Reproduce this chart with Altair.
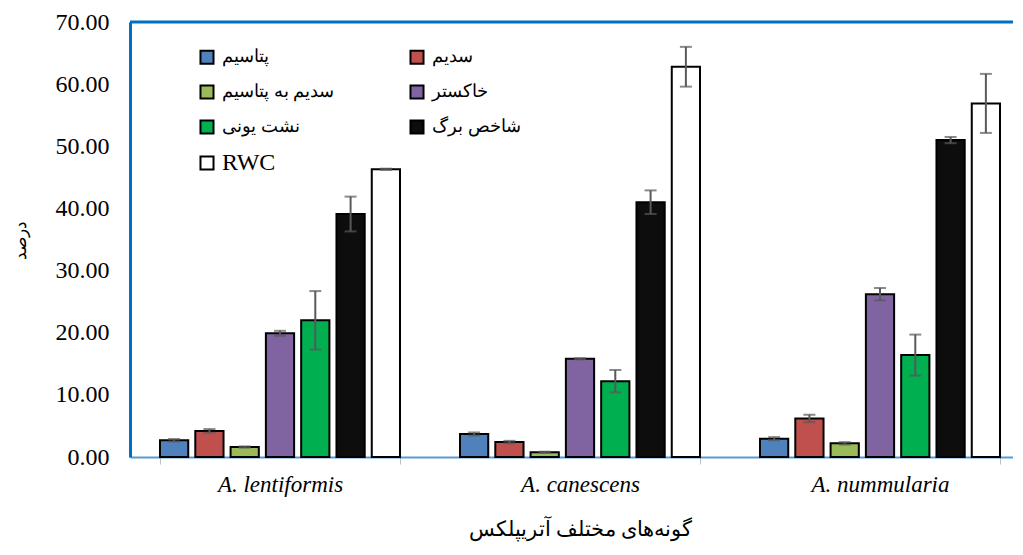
import altair as alt
import pandas as pd

species = ["A. lentiformis", "A. canescens", "A. nummularia"]
series = ["پتاسیم", "سدیم", "سدیم به پتاسیم", "خاکستر", "نشت یونی", "شاخص برگ", "RWC"]
colors = ["#4F81BD", "#C0504D", "#9BBB59", "#8064A2", "#00B050", "#0D0D0D", "#FFFFFF"]

# mean values per series, in species order
potassium = [2.7, 3.7, 2.95]
sodium = [4.2, 2.4, 6.2]
na_k = [1.6, 0.75, 2.2]
ash = [19.9, 15.8, 26.2]
leakage = [22.0, 12.2, 16.4]
leaf_index = [39.1, 41.0, 51.0]
rwc = [46.3, 62.8, 56.9]

# standard errors
potassium_err = [0.2, 0.25, 0.25]
sodium_err = [0.3, 0.2, 0.6]
na_k_err = [0.1, 0.1, 0.2]
ash_err = [0.4, 0.1, 1.0]
leakage_err = [4.7, 1.8, 3.3]
leaf_index_err = [2.8, 1.9, 0.5]
rwc_err = [0.1, 3.2, 4.75]

means = [potassium, sodium, na_k, ash, leakage, leaf_index, rwc]
errs = [potassium_err, sodium_err, na_k_err, ash_err, leakage_err, leaf_index_err, rwc_err]

rows = []
for s, m_list, e_list in zip(series, means, errs):
    for sp, m, e in zip(species, m_list, e_list):
        rows.append({"species": sp, "series": s, "value": m, "lo": m - e, "hi": m + e})
df = pd.DataFrame(rows)

SERIF = "Liberation Serif"
BORDER = "#0070C0"

x_enc = alt.X(
    "species:N",
    sort=species,
    scale=alt.Scale(range=[0, 900], paddingInner=0.2, paddingOuter=0.1),
    axis=alt.Axis(
        title="گونه‌های مختلف آتریپلکس",
        labelAngle=0,
        labelFont=SERIF,
        labelFontSize=23,
        labelFontStyle="italic",
        labelColor="#000000",
        labelPadding=9,
        tickBand="extent",
        tickSize=7,
        tickColor="#BFBFBF",
        domainColor="#5B9BD5",
        domainWidth=2,
        titleFont=SERIF,
        titleFontSize=21,
        titleFontWeight="normal",
        titleColor="#000000",
        titlePadding=22,
    ),
)
xoff = alt.XOffset("series:N", sort=series, scale=alt.Scale(paddingInner=0.2, paddingOuter=0))
y_scale = alt.Scale(domain=[0, 70], nice=False)

bars = alt.Chart(df).mark_bar(stroke="#000000", strokeWidth=2).encode(
    x=x_enc,
    xOffset=xoff,
    y=alt.Y(
        "value:Q",
        scale=y_scale,
        axis=alt.Axis(
            title="درصد",
            values=[0, 10, 20, 30, 40, 50, 60, 70],
            format=".2f",
            grid=False,
            ticks=False,
            labelFont=SERIF,
            labelFontSize=24,
            labelColor="#000000",
            labelPadding=21,
            domainColor=BORDER,
            domainWidth=3,
            titleFont=SERIF,
            titleFontSize=17,
            titleFontWeight="normal",
            titleColor="#000000",
            titlePadding=26,
        ),
    ),
    color=alt.Color(
        "series:N",
        sort=series,
        scale=alt.Scale(domain=series, range=colors),
        legend=alt.Legend(
            title=None,
            orient="none",
            legendX=68,
            legendY=26,
            columns=2,
            direction="horizontal",
            symbolType="square",
            symbolSize=170,
            symbolStrokeColor="#000000",
            symbolStrokeWidth=2,
            symbolOpacity=1,
            labelFont=SERIF,
            labelFontSize={"expr": "datum.label === 'RWC' ? 24 : 18"},
            labelColor="#000000",
            labelLimit=300,
            labelOffset=6,
            rowPadding=13,
            columnPadding=72,
            padding=0,
        ),
    ),
)

err_rule = alt.Chart(df).mark_rule(color="#595959", strokeWidth=2).encode(
    x=alt.X("species:N", sort=species),
    xOffset=xoff,
    y="lo:Q",
    y2="hi:Q",
)
err_caps_lo = alt.Chart(df).mark_tick(color="#595959", thickness=2, size=12, orient="horizontal").encode(
    x=alt.X("species:N", sort=species),
    xOffset=xoff,
    y="lo:Q",
)
err_caps_hi = alt.Chart(df).mark_tick(color="#595959", thickness=2, size=12, orient="horizontal").encode(
    x=alt.X("species:N", sort=species),
    xOffset=xoff,
    y="hi:Q",
)

top_border = alt.Chart(pd.DataFrame({"top": [70]})).mark_rule(color=BORDER, strokeWidth=3).encode(
    y=alt.Y("top:Q", scale=y_scale)
)

chart = (
    alt.layer(bars, err_rule, err_caps_lo, err_caps_hi, top_border)
    .properties(
        width=883,
        height=435,
        autosize=alt.AutoSizeParams(type="none"),
        padding={"left": 122, "top": 14, "right": 0, "bottom": 86},
    )
    .configure_view(stroke=None)
    .configure(font=SERIF)
)

chart.save("out.html", embed_options={"renderer": "svg", "actions": False})
